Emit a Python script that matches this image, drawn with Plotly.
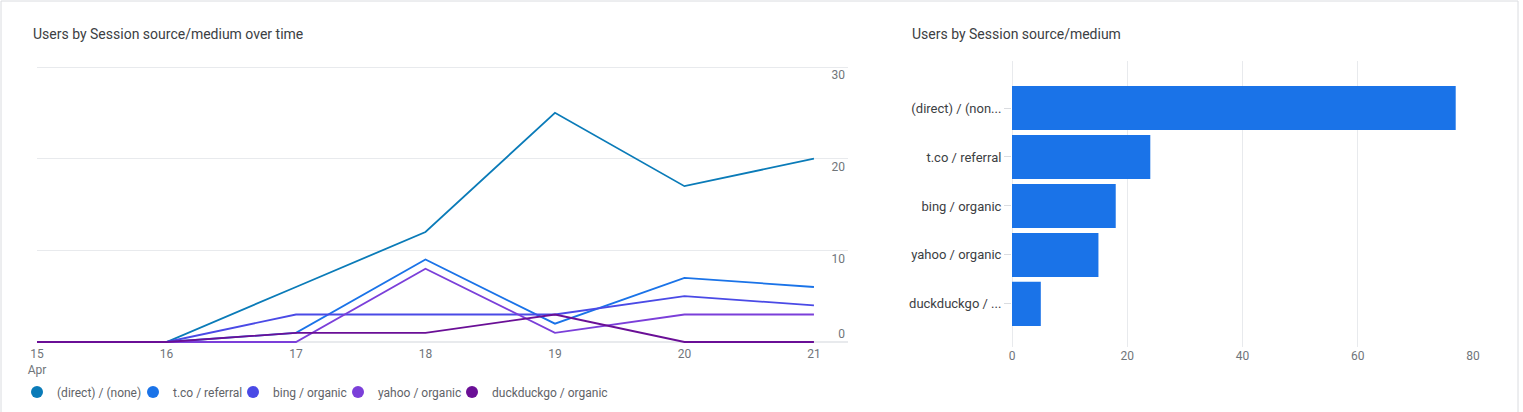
import plotly.graph_objects as go

W, H = 1523, 412

# line chart data (users per day, April)
days = [15, 16, 17, 18, 19, 20, 21]
day_labels = ["15<br>Apr", "16", "17", "18", "19", "20", "21"]
direct_none = [0, 0, 6, 12, 25, 17, 20]
tco_referral = [0, 0, 1, 9, 2, 7, 6]
bing_organic = [0, 0, 3, 3, 3, 5, 4]
yahoo_organic = [0, 0, 0, 8, 1, 3, 3]
duckduckgo_organic = [0, 0, 1, 1, 3, 0, 0]

# bar chart data (total users)
sources = ["(direct) / (none)", "t.co / referral", "bing / organic",
           "yahoo / organic", "duckduckgo / organic"]
source_labels = ["(direct) / (non...", "t.co / referral", "bing / organic",
                 "yahoo / organic", "duckduckgo / ..."]
total_users = [77, 24, 18, 15, 5]

line_colors = {
    "(direct) / (none)": "#0a7bb8",
    "t.co / referral": "#1a73e8",
    "bing / organic": "#4a4ae6",
    "yahoo / organic": "#7b3fd9",
    "duckduckgo / organic": "#6a0f96",
}
series = [direct_none, tco_referral, bing_organic, yahoo_organic, duckduckgo_organic]

# left edge (px) of each legend entry under the line chart
legend_left = [17, 133, 233, 338, 452]

GRID = "#e8eaed"
TICK_TXT = "#70757a"
FONT = "Roboto"


def px(p):
    return p / W


def py(p):
    return (H - p) / H


# line chart: 0 sits at y=342px, 30 at y=67px; a little headroom around it
unit = (342 - 67) / 30
y_lo = -(350 - 342) / unit
y_hi = 30 + (67 - 55) / unit

fig = go.Figure()

legends = {}
for i, (name, vals) in enumerate(zip(sources, series)):
    lg = "legend" if i == 0 else f"legend{i + 1}"
    fig.add_trace(go.Scatter(x=days, y=vals, mode="lines", name=name,
                             line=dict(color=line_colors[name], width=1.8),
                             showlegend=False, xaxis="x", yaxis="y"))
    # legend entry with a round dot
    fig.add_trace(go.Scatter(x=[None], y=[None], mode="markers", name=name,
                             marker=dict(color=line_colors[name], size=10),
                             legend=lg, xaxis="x", yaxis="y"))
    legends[lg] = dict(orientation="h", x=px(legend_left[i]), y=py(392),
                       xanchor="left", yanchor="middle",
                       font=dict(size=12, color="#5f6368"),
                       itemsizing="constant", bgcolor="rgba(0,0,0,0)")

# carrier for the lone "0" label that sits above the baseline
fig.add_trace(go.Scatter(x=[None], y=[None], showlegend=False, xaxis="x", yaxis="y3"))

fig.add_trace(go.Bar(x=total_users, y=sources, orientation="h",
                     marker=dict(color="#1a73e8", line=dict(width=0)),
                     showlegend=False, xaxis="x2", yaxis="y2"))

fig.update_layout(
    width=W, height=H,
    margin=dict(l=0, r=0, t=0, b=0, autoexpand=False),
    paper_bgcolor="white", plot_bgcolor="white",
    font=dict(family=FONT, size=12, color=TICK_TXT),
    bargap=0.1,
    xaxis=dict(domain=[px(37), px(848)], range=[15, 21.263],
               tickvals=days, ticktext=day_labels, automargin=False,
               ticklabelstandoff=-5,
               showgrid=False, zeroline=False, showline=False, ticks="",
               tickfont=dict(size=12, color=TICK_TXT), anchor="y"),
    yaxis=dict(domain=[py(350), py(55)], range=[y_lo, y_hi], side="right",
               tickvals=[10, 20, 30], ticklabelposition="inside",
               ticklabelshift=8, automargin=False,
               showgrid=True, gridcolor=GRID, gridwidth=1,
               zeroline=True, zerolinecolor=GRID, zerolinewidth=1.5,
               showline=False, ticks="",
               tickfont=dict(size=12, color=TICK_TXT), anchor="x"),
    yaxis3=dict(overlaying="y", range=[y_lo, y_hi], side="right", anchor="x",
                tickvals=[0], ticklabelposition="inside", ticklabelshift=-8,
                automargin=False,
                showgrid=False, zeroline=False, showline=False, ticks="",
                tickfont=dict(size=12, color=TICK_TXT)),
    xaxis2=dict(domain=[px(1012), px(1473)], range=[0, 80],
                tickvals=[0, 20, 40, 60, 80], automargin=False,
                showgrid=True, gridcolor=GRID, gridwidth=1,
                zeroline=True, zerolinecolor=GRID, zerolinewidth=1,
                showline=False, ticks="",
                tickfont=dict(size=12, color=TICK_TXT), anchor="y2"),
    yaxis2=dict(domain=[py(347), py(61)], range=[4.88, -0.96],
                type="category", tickvals=sources, ticktext=source_labels,
                showgrid=False, showline=False, automargin=False,
                ticks="outside", ticklen=7, tickcolor="#dadce0",
                tickfont=dict(size=13, color="#3c4043"), anchor="x2"),
    annotations=[
        dict(text="Users by Session source/medium over time", x=px(31), y=py(34),
             xref="paper", yref="paper", xanchor="left", yanchor="middle",
             showarrow=False, font=dict(size=14, color="#3c4043", family=FONT)),
        dict(text="Users by Session source/medium", x=px(910), y=py(34),
             xref="paper", yref="paper", xanchor="left", yanchor="middle",
             showarrow=False, font=dict(size=14, color="#3c4043", family=FONT)),
    ],
    shapes=[
        dict(type="rect", xref="paper", yref="paper",
             x0=px(1), x1=px(1518), y0=py(430), y1=py(1),
             line=dict(color="#dadce0", width=1), fillcolor="rgba(0,0,0,0)",
             layer="below"),
    ],
    **legends,
)

# the page's default 8px body margin would push the figure off its spot
fig.write_html("out.html", config={"displayModeBar": False},
               post_script="document.body.style.margin = '0';")
